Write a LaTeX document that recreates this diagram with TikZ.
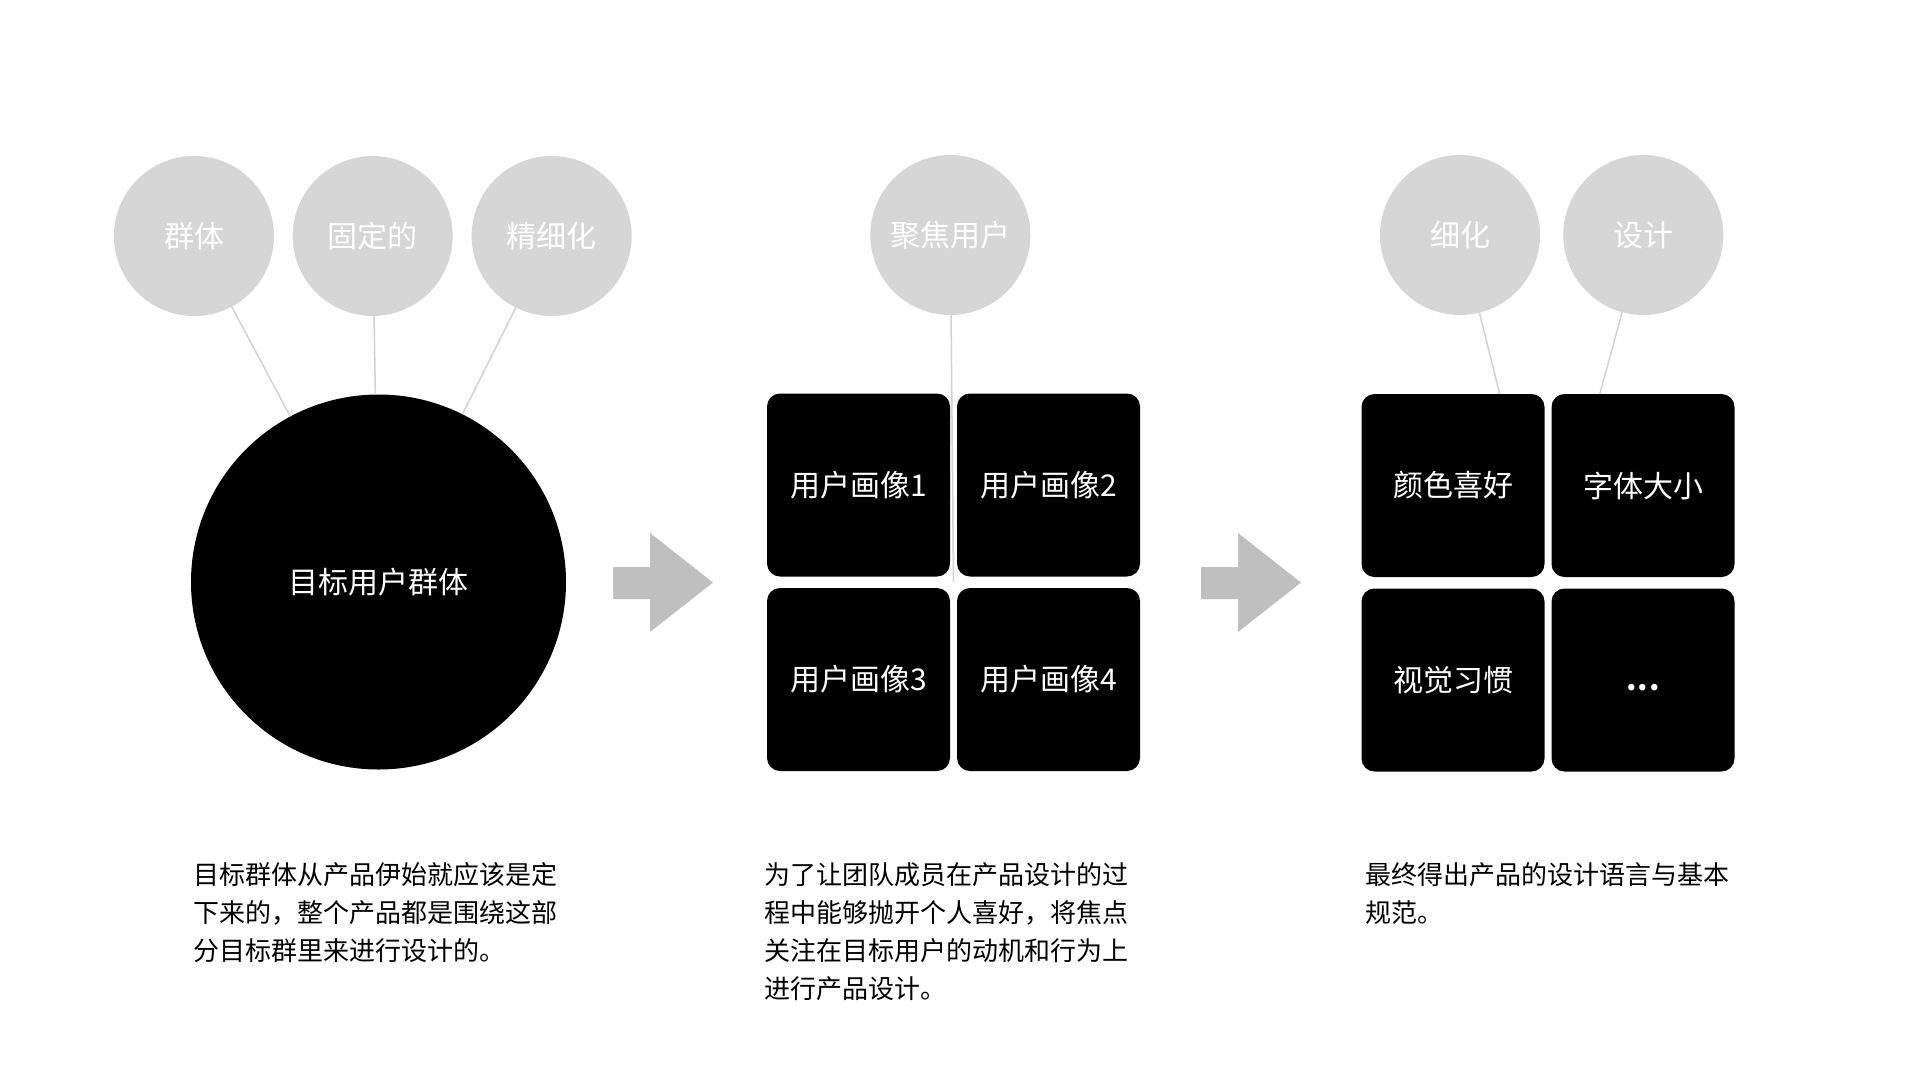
\documentclass[tikz,border=0pt]{standalone}
\usepackage{fontspec}
\setmainfont{Noto Sans CJK SC}
\definecolor{tagfill}{HTML}{D6D6D6}
\definecolor{linkgray}{HTML}{D2D2D2}
\definecolor{arrowgray}{HTML}{BFBFBF}
\tikzset{
  tag/.style={circle, fill=tagfill, minimum size=160pt, inner sep=0pt, text=white, font=\fontsize{30}{36}\selectfont},
  hub/.style={circle, fill=black, minimum size=375pt, inner sep=0pt, text=white, font=\fontsize{30}{36}\selectfont},
  card/.style={rounded corners=13pt, fill=black, minimum size=183pt, inner sep=0pt, text=white, font=\fontsize{30}{36}\selectfont},
  link/.style={draw=linkgray, line width=1.5pt},
  note/.style={anchor=north west, align=left, inner sep=0pt, font=\fontsize{26}{38}\selectfont},
}
\begin{document}
\begin{tikzpicture}[x=1pt, y=-1pt]
        \useasboundingbox[fill=white] (0,0) rectangle (1920,1080);
        % left: target group
        \node[tag] (qunti) at (194, 236) {群体};
        \node[tag] (guding) at (372.7, 236) {固定的};
        \node[tag] (jingxi) at (551.6, 236) {精细化};
        \node[hub] (mubiao) at (378.5, 582) {目标用户群体};
        \draw[link] (qunti) -- (mubiao);
        \draw[link] (guding) -- (mubiao);
        \draw[link] (jingxi) -- (mubiao);
        % arrows
        \foreach \x in {613, 1201}
            \fill[arrowgray] (\x, 567) -- (\x+37, 567) -- (\x+37, 533) -- (\x+100, 582.5)
                -- (\x+37, 632) -- (\x+37, 599) -- (\x, 599) -- cycle;
        % middle: personas
        \node[tag] (jujiao) at (950.3, 235) {聚焦用户};
        \coordinate (midgrid) at (953.5, 582);
        \draw[link] (jujiao) -- (midgrid);
        \node[card] (huaxiang1) at (858.5, 485) {用户画像1};
        \node[card] (huaxiang2) at (1048.5, 485) {用户画像2};
        \node[card] (huaxiang3) at (858.5, 679.5) {用户画像3};
        \node[card] (huaxiang4) at (1048.5, 679.5) {用户画像4};
        % right: design language
        \node[tag] (xihua) at (1460, 235) {细化};
        \node[tag] (sheji) at (1643.3, 235) {设计};
        \coordinate (xihuaend) at (1500, 395);
        \coordinate (shejiend) at (1599.5, 395);
        \draw[link] (xihua) -- (xihuaend);
        \draw[link] (sheji) -- (shejiend);
        \node[card] (yanse) at (1453, 485.5) {颜色喜好};
        \node[card] (ziti) at (1643, 485.5) {字体大小};
        \node[card] (shijue) at (1453, 680) {视觉习惯};
        \node[card] (gengduo) at (1643, 680) {\bfseries\vphantom{用}.\kern1pt.\kern1pt.};
        % notes
        \node[note] (note1) at (193, 862) {目标群体从产品伊始就应该是定\\下来的，整个产品都是围绕这部\\分目标群里来进行设计的。};
        \node[note] (note2) at (764, 862) {为了让团队成员在产品设计的过\\程中能够抛开个人喜好，将焦点\\关注在目标用户的动机和行为上\\进行产品设计。};
        \node[note] (note3) at (1365, 862) {最终得出产品的设计语言与基本\\规范。};
    \end{tikzpicture}
\end{document}
